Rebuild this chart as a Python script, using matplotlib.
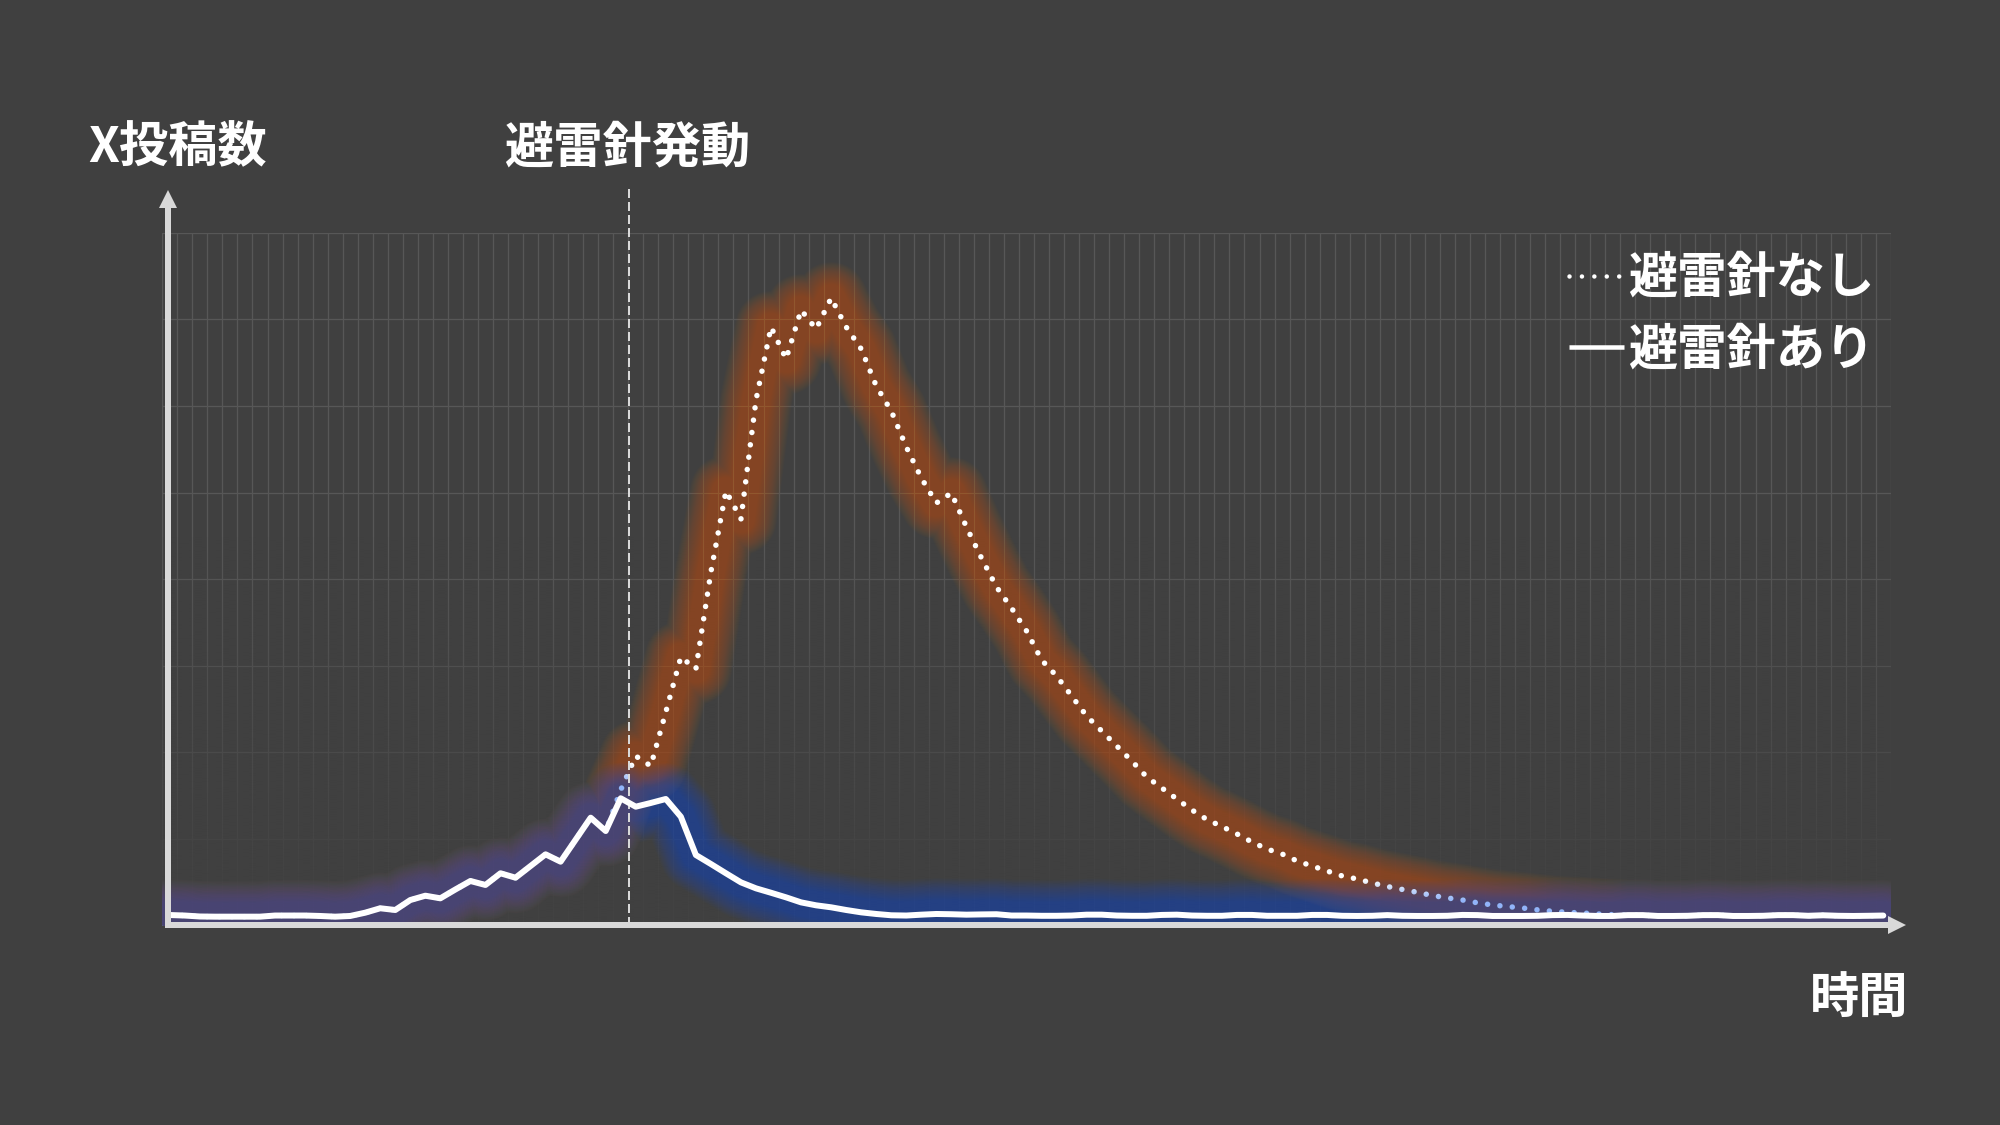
import numpy as np
import matplotlib
matplotlib.use("Agg")
import matplotlib.pyplot as plt
from matplotlib.lines import Line2D
from matplotlib.font_manager import FontProperties

plt.rcParams['font.family'] = ['Noto Sans CJK JP', 'DejaVu Sans']

# ---------------- data ----------------
time_index = np.arange(115)

# 避雷針あり (solid line)
with_rod = [
    1.21, 1.15, 1.04, 1.02, 1.02, 1.02, 1.02, 1.15, 1.15, 1.15,
    1.10, 1.02, 1.10, 1.48, 1.99, 1.79, 2.94, 3.44, 3.14, 4.16,
    5.14, 4.68, 6.03, 5.52, 6.87, 8.22, 7.37, 9.91, 12.45, 10.91,
    14.69, 13.72, 14.15, 14.61, 12.56, 8.14, 7.10, 6.03, 4.98, 4.29,
    3.78, 3.25, 2.67, 2.33, 2.10, 1.79, 1.52, 1.33, 1.18, 1.15,
    1.25, 1.33, 1.30, 1.25, 1.28, 1.30, 1.15, 1.15, 1.12, 1.12,
    1.15, 1.25, 1.25, 1.15, 1.12, 1.12, 1.22, 1.25, 1.15, 1.12,
    1.12, 1.22, 1.22, 1.12, 1.12, 1.12, 1.22, 1.22, 1.12, 1.10,
    1.12, 1.20, 1.12, 1.10, 1.10, 1.12, 1.22, 1.20, 1.10, 1.10,
    1.10, 1.12, 1.20, 1.22, 1.15, 1.10, 1.10, 1.20, 1.20, 1.10,
    1.10, 1.12, 1.20, 1.20, 1.10, 1.10, 1.12, 1.20, 1.20, 1.12,
    1.18, 1.12, 1.10, 1.12, 1.15,
]

# 避雷針なし (dotted line)
without_rod = [
    1.21, 1.15, 1.04, 1.02, 1.02, 1.02, 1.02, 1.15, 1.15, 1.15,
    1.10, 1.02, 1.10, 1.48, 1.99, 1.79, 2.94, 3.44, 3.14, 4.16,
    5.14, 4.68, 6.03, 5.52, 6.87, 8.22, 7.37, 9.91, 12.45, 10.91,
    15.65, 19.57, 18.42, 24.65, 31.00, 29.62, 40.82, 50.17, 46.94, 60.68,
    69.11, 65.42, 71.07, 68.88, 72.46, 69.11, 66.57, 62.30, 59.41, 55.25,
    51.67, 48.79, 49.94, 46.02, 42.44, 39.09, 36.66, 34.01, 30.66, 28.81,
    26.50, 24.19, 22.46, 20.73, 19.00, 17.15, 15.88, 14.61, 13.34, 12.24,
    11.43, 10.57, 9.64, 8.83, 8.26, 7.45, 6.87, 6.29, 5.72, 5.37,
    4.91, 4.50, 4.16, 3.83, 3.46, 3.18, 2.94, 2.62, 2.37, 2.19,
    2.02, 1.81, 1.64, 1.52, 1.44, 1.33, 1.25, 1.20, 1.20, 1.10,
    1.10, 1.12, 1.20, 1.20, 1.10, 1.10, 1.12, 1.20, 1.20, 1.12,
    1.18, 1.12, 1.10, 1.12, 1.15,
]

trigger_index = 30.55
y_label = "X投稿数"
x_label = "時間"
trigger_label = "避雷針発動"
legend_labels = ["避雷針なし", "避雷針あり"]

# ---------------- style ----------------
BG = "#404040"
GRID = "#575757"
AXIS = "#d9d9d9"
ORANGE = "#E16E14"
BLUE = "#1464FA"
PX = 0.72  # points per pixel at dpi 100

fig = plt.figure(figsize=(20, 11.25), dpi=100, facecolor=BG)
W, H = 2000, 1125
left, right, top, bottom = 162.3, 1890.8, 232.7, 925.5
ax = fig.add_axes([left / W, 1 - bottom / H, (right - left) / W, (bottom - top) / H])
ax.set_facecolor(BG)
for s in ax.spines.values():
    s.set_visible(False)

ax.set_xticks(np.arange(-0.5, 115, 1))
ax.set_yticks(np.arange(0, 81, 10))
ax.tick_params(length=0, labelbottom=False, labelleft=False)
ax.grid(True, color=GRID, lw=1.3 * PX)
ax.set_axisbelow(True)

# fade of the grid toward the bottom
vv = np.linspace(80, 0, 300)
fade = np.zeros((300, 1, 4))
fade[..., :3] = matplotlib.colors.to_rgb(BG)
fade[:, 0, 3] = np.clip((45 - vv) / 40, 0, 1) * 0.9
ax.imshow(fade, extent=(-0.5, 114.5, 0, 80), aspect="auto", zorder=0.8,
          interpolation="bilinear")


def glow(x, y, color, total_alpha, wmin, wmax, n, z):
    a = 1 - (1 - total_alpha) ** (1.0 / n)
    for w in np.linspace(wmax, wmin, n):
        ax.plot(x, y, color=color, lw=w * PX, alpha=a, solid_joinstyle="round",
                solid_capstyle="round", zorder=z)


glow(time_index, without_rod, ORANGE, 0.48, 28, 72, 28, 2)
ax.plot(time_index, without_rod, color="white", lw=5.5 * PX,
        linestyle=(0, (0.01, 2.25)), dash_capstyle="round", zorder=3)
glow(time_index, with_rod, BLUE, 0.40, 28, 72, 28, 4)
ax.plot([trigger_index, trigger_index], [0, 85.05], color=AXIS, lw=2 * PX,
        linestyle=(0, (4.5, 2)), clip_on=False, zorder=4.5)
ax.plot(time_index, with_rod, color="white", lw=6.0 * PX, solid_joinstyle="round",
        solid_capstyle="round", zorder=5)

ax.set_xlim(-0.5, 114.5)
ax.set_ylim(0, 80)

# axes with arrows
xa = -0.12
ax.plot([xa, xa], [0.1, 83.8], color=AXIS, lw=6 * PX, solid_capstyle="butt",
        clip_on=False, zorder=7)
ax.plot([xa], [83.9], marker="^", ms=18 * PX, color=AXIS, mew=0, clip_on=False, zorder=7)
ax.plot([-0.3, 114.45], [0.1, 0.1], color=AXIS, lw=6 * PX, solid_capstyle="butt",
        clip_on=False, zorder=7)
ax.plot([114.92], [0.1], marker=">", ms=18 * PX, color=AXIS, mew=0, clip_on=False, zorder=7)

fp = FontProperties(family=["Noto Sans CJK JP", "DejaVu Sans"], weight="bold", size=35.5)
fig.text(88 / W, 1 - 148 / H, y_label, ha="left", va="center", fontproperties=fp, color="white")
fig.text(627 / W, 1 - 148 / H, trigger_label, ha="center", va="center", fontproperties=fp,
         color="white")
fig.text(1908 / W, 1 - 998 / H, x_label, ha="right", va="center", fontproperties=fp,
         color="white")

handles = [
    Line2D([], [], color="white", lw=4.5 * PX, linestyle=(0, (0.01, 2.75)),
           dash_capstyle="round"),
    Line2D([], [], color="white", lw=4.5 * PX, solid_capstyle="butt"),
]
leg = ax.legend(handles, legend_labels, loc="upper right",
                bbox_to_anchor=(1874 / W, 1 - 254 / H), bbox_transform=fig.transFigure,
                frameon=False, prop=fp, labelcolor="white", handlelength=1.12,
                handletextpad=0.08, labelspacing=0.45, borderpad=0, borderaxespad=0)
leg.set_zorder(8)

fig.savefig("out.png", dpi=100, facecolor=BG)
